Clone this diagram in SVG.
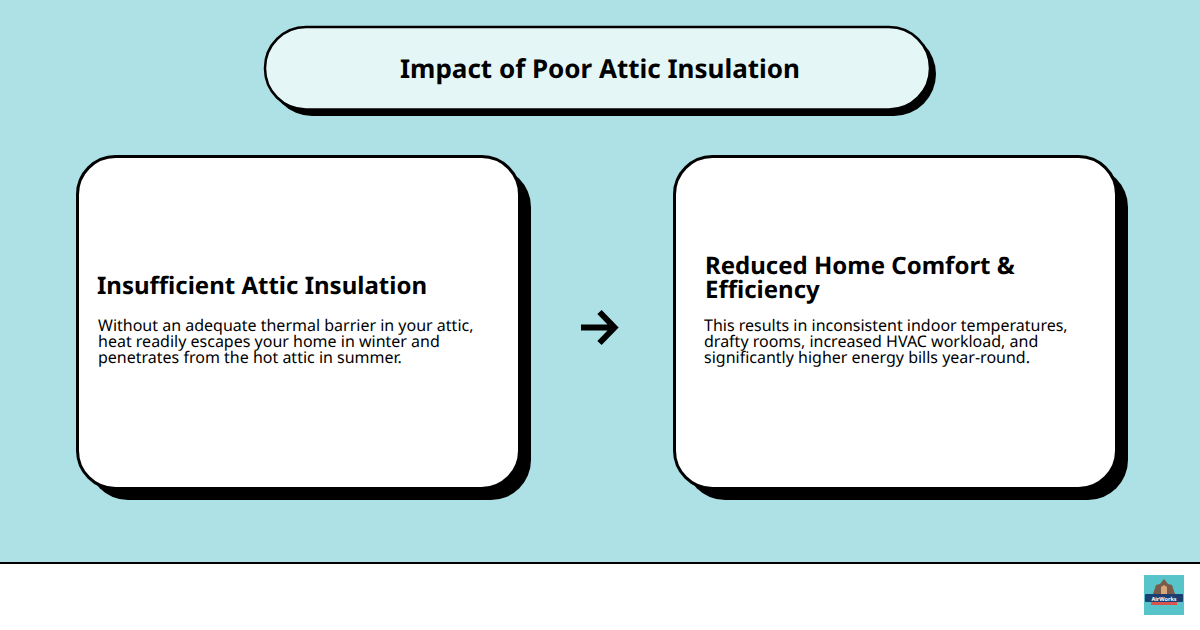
<svg xmlns="http://www.w3.org/2000/svg" width="1200" height="630" viewBox="0 0 1200 630">
<style>
text{font-family:"Noto Sans","Open Sans","Liberation Sans",sans-serif;fill:#000;text-rendering:geometricPrecision}
.h{font-size:24px;font-weight:700}
.b{font-size:16px}
.card{fill:#fff;stroke:#000;stroke-width:3}
.sh{fill:#000}
</style>
<rect width="1200" height="630" fill="#ade1e5"/>
<rect y="562" width="1200" height="68" fill="#fff"/>
<rect y="562" width="1200" height="2" fill="#000"/>
<g id="title">
<rect class="sh" x="270" y="32" width="666" height="84" rx="42"/>
<rect x="265" y="27" width="665" height="82.500" rx="41" fill="#e5f6f7" stroke="#000" stroke-width="2.500"/>
<text x="600" y="78" text-anchor="middle" font-size="26" font-weight="700">Impact of Poor Attic Insulation</text>
</g>
<g id="cause">
<rect class="sh" x="88" y="167" width="443" height="333" rx="40"/>
<rect class="card" x="77.500" y="156.500" width="442" height="332" rx="38"/>
<text class="h" x="97" y="294">Insufficient Attic Insulation</text>
<text class="b" x="98" y="331">Without an adequate thermal barrier in your attic,</text>
<text class="b" x="98" y="347">heat readily escapes your home in winter and</text>
<text class="b" x="98" y="363">penetrates from the hot attic in summer.</text>
</g>
<g id="effect">
<rect class="sh" x="685" y="167" width="443" height="333" rx="40"/>
<rect class="card" x="674.500" y="156.500" width="442" height="332" rx="38"/>
<text class="h" x="705" y="274">Reduced Home Comfort &amp;</text>
<text class="h" x="705" y="298">Efficiency</text>
<text class="b" x="704" y="331">This results in inconsistent indoor temperatures,</text>
<text class="b" x="704" y="347">drafty rooms, increased HVAC workload, and</text>
<text class="b" x="704" y="363">significantly higher energy bills year-round.</text>
</g>
<g id="connectors">
<path d="M581 327.500H613M599.500 312L614.500 327.500L599.500 343" fill="none" stroke="#000" stroke-width="6"/>
</g>
<g id="logo">
<rect x="1144" y="575" width="40" height="40" fill="#56c4c9"/>
<path d="M1153 594L1156 585L1160 584L1164 579L1168 584L1172 585L1175 594Z" fill="#7a5a48"/>
<path d="M1161 594V587L1164 585L1167 587V594Z" fill="#d6a77a"/>
<rect x="1145" y="594" width="38" height="8" rx="1" fill="#1c3f72"/>
<text x="1164" y="600.500" text-anchor="middle" font-size="5.500" font-weight="700" style="fill:#fff">AirWorks</text>
<rect x="1151" y="602" width="26" height="3" fill="#d9534f"/>
</g>
</svg>
